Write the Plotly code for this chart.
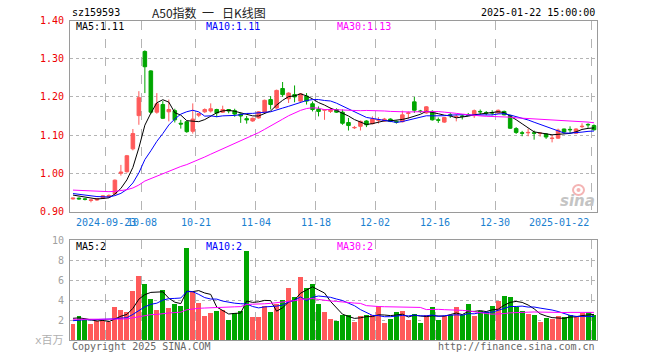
import plotly.graph_objects as go

# ---------------- data ----------------
dates = [
    "2024-09-11", "2024-09-12", "2024-09-13", "2024-09-18", "2024-09-19", "2024-09-20",
    "2024-09-23", "2024-09-24", "2024-09-25", "2024-09-26", "2024-09-27", "2024-09-30",
    "2024-10-08", "2024-10-09", "2024-10-10", "2024-10-11", "2024-10-14", "2024-10-15",
    "2024-10-16", "2024-10-17", "2024-10-18", "2024-10-21", "2024-10-22", "2024-10-23",
    "2024-10-24", "2024-10-25", "2024-10-28", "2024-10-29", "2024-10-30", "2024-10-31",
    "2024-11-01", "2024-11-04", "2024-11-05", "2024-11-06", "2024-11-07", "2024-11-08",
    "2024-11-11", "2024-11-12", "2024-11-13", "2024-11-14", "2024-11-15", "2024-11-18",
    "2024-11-19", "2024-11-20", "2024-11-21", "2024-11-22", "2024-11-25", "2024-11-26",
    "2024-11-27", "2024-11-28", "2024-11-29", "2024-12-02", "2024-12-03", "2024-12-04",
    "2024-12-05", "2024-12-06", "2024-12-09", "2024-12-10", "2024-12-11", "2024-12-12",
    "2024-12-13", "2024-12-16", "2024-12-17", "2024-12-18", "2024-12-19", "2024-12-20",
    "2024-12-23", "2024-12-24", "2024-12-25", "2024-12-26", "2024-12-27", "2024-12-30",
    "2024-12-31", "2025-01-02", "2025-01-03", "2025-01-06", "2025-01-07", "2025-01-08",
    "2025-01-09", "2025-01-10", "2025-01-13", "2025-01-14", "2025-01-15", "2025-01-16",
    "2025-01-17", "2025-01-20", "2025-01-21", "2025-01-22",
]

opens = [
    0.933, 0.935, 0.933, 0.929, 0.930, 0.935, 0.938, 0.946, 1.000, 1.004,
    1.064, 1.151, 1.319, 1.268, 1.160, 1.180, 1.161, 1.164, 1.131, 1.135,
    1.110, 1.152, 1.161, 1.163, 1.167, 1.160, 1.167, 1.164, 1.155, 1.143,
    1.137, 1.145, 1.160, 1.193, 1.171, 1.222, 1.195, 1.206, 1.189, 1.202,
    1.182, 1.168, 1.165, 1.162, 1.167, 1.160, 1.133, 1.119, 1.123, 1.137,
    1.130, 1.139, 1.137, 1.142, 1.136, 1.135, 1.157, 1.187, 1.163, 1.158,
    1.162, 1.140, 1.134, 1.153, 1.148, 1.150, 1.154, 1.151, 1.162, 1.159,
    1.159, 1.158, 1.162, 1.151, 1.117, 1.106, 1.106, 1.106, 1.104, 1.103,
    1.091, 1.092, 1.116, 1.115, 1.105, 1.122, 1.128, 1.125,
]
highs = [
    0.936, 0.937, 0.935, 0.932, 0.935, 0.943, 0.945, 0.984, 1.022, 1.048,
    1.116, 1.215, 1.322, 1.270, 1.210, 1.189, 1.193, 1.169, 1.140, 1.136,
    1.183, 1.158, 1.170, 1.183, 1.169, 1.177, 1.168, 1.169, 1.157, 1.150,
    1.146, 1.163, 1.193, 1.202, 1.219, 1.239, 1.212, 1.230, 1.210, 1.210,
    1.188, 1.175, 1.168, 1.172, 1.170, 1.167, 1.145, 1.124, 1.138, 1.139,
    1.149, 1.147, 1.145, 1.144, 1.138, 1.164, 1.162, 1.200, 1.166, 1.176,
    1.165, 1.146, 1.147, 1.158, 1.154, 1.154, 1.158, 1.167, 1.167, 1.163,
    1.165, 1.167, 1.164, 1.153, 1.121, 1.111, 1.117, 1.112, 1.108, 1.105,
    1.100, 1.117, 1.117, 1.123, 1.118, 1.131, 1.131, 1.128,
]
lows = [
    0.931, 0.931, 0.929, 0.924, 0.928, 0.933, 0.936, 0.945, 0.994, 1.002,
    1.060, 1.127, 1.210, 1.155, 1.156, 1.142, 1.136, 1.133, 1.117, 1.106,
    1.104, 1.147, 1.158, 1.159, 1.147, 1.158, 1.157, 1.148, 1.132, 1.130,
    1.135, 1.143, 1.158, 1.167, 1.169, 1.200, 1.184, 1.186, 1.187, 1.180,
    1.162, 1.149, 1.140, 1.158, 1.158, 1.127, 1.112, 1.116, 1.112, 1.121,
    1.128, 1.130, 1.135, 1.134, 1.130, 1.133, 1.143, 1.158, 1.158, 1.156,
    1.138, 1.132, 1.132, 1.145, 1.136, 1.141, 1.150, 1.145, 1.154, 1.152,
    1.152, 1.156, 1.152, 1.116, 1.103, 1.097, 1.097, 1.088, 1.096, 1.090,
    1.081, 1.090, 1.104, 1.105, 1.103, 1.118, 1.119, 1.112,
]
closes = [
    0.935, 0.933, 0.932, 0.930, 0.934, 0.941, 0.942, 0.982, 1.003, 1.046,
    1.104, 1.198, 1.279, 1.160, 1.182, 1.144, 1.167, 1.140, 1.129, 1.109,
    1.142, 1.156, 1.167, 1.169, 1.158, 1.167, 1.163, 1.155, 1.150, 1.140,
    1.144, 1.161, 1.191, 1.180, 1.217, 1.206, 1.210, 1.200, 1.208, 1.189,
    1.167, 1.162, 1.167, 1.167, 1.160, 1.131, 1.125, 1.120, 1.136, 1.127,
    1.142, 1.140, 1.142, 1.136, 1.134, 1.153, 1.158, 1.165, 1.162, 1.174,
    1.140, 1.139, 1.146, 1.152, 1.149, 1.149, 1.152, 1.164, 1.161, 1.158,
    1.158, 1.165, 1.153, 1.118, 1.107, 1.105, 1.107, 1.105, 1.105, 1.095,
    1.092, 1.113, 1.108, 1.114, 1.116, 1.123, 1.127, 1.114,
]
# volume, millions of shares
volumes = [
    1.6, 2.4, 2.0, 1.6, 1.9, 1.9, 1.8, 3.3, 3.0, 2.8,
    4.9, 6.4, 5.6, 4.1, 3.0, 5.0, 3.2, 3.6, 3.4, 9.2,
    4.8, 3.7, 2.4, 2.7, 2.9, 3.0, 2.0, 2.7, 2.9, 8.9,
    2.3, 2.3, 3.4, 2.8, 3.6, 4.0, 5.2, 4.3, 6.3, 5.2,
    5.6, 3.6, 2.8, 2.1, 1.9, 2.5, 2.5, 1.8, 2.4, 2.5,
    2.5, 3.4, 1.7, 2.1, 2.8, 2.9, 2.0, 2.6, 1.7, 2.5,
    3.3, 2.0, 2.4, 2.5, 3.3, 2.5, 3.6, 2.4, 2.9, 2.8,
    3.4, 3.9, 4.4, 4.3, 3.3, 2.9, 2.6, 2.5, 1.8, 2.2,
    2.1, 2.4, 2.3, 2.5, 2.3, 2.7, 2.8, 2.5,
]
# sessions before the visible window (only used to seed the moving averages)
prior_closes = [
    0.958, 0.955, 0.957, 0.954, 0.956, 0.955, 0.957, 0.960, 0.962, 0.965,
    0.967, 0.966, 0.964, 0.963, 0.961, 0.964, 0.966, 0.962, 0.960, 0.959,
    0.955, 0.953, 0.951, 0.949, 0.947, 0.947, 0.946, 0.944, 0.943,
]
prior_volumes = [
    2.3, 2.0, 2.2, 1.9, 2.4, 2.1, 2.0, 2.3, 2.2, 1.9,
    2.1, 2.4, 2.0, 2.2, 2.1, 1.9, 2.3, 2.2, 2.0, 2.3,
    1.8, 1.6, 1.7, 1.7, 1.65, 2.2, 2.4, 2.3, 2.35,
]

tick_dates = ["2024-09-23", "2024-10-08", "2024-10-21", "2024-11-04", "2024-11-18",
              "2024-12-02", "2024-12-16", "2024-12-30", "2025-01-22"]
tick_labels = ["2024-09-23", "10-08", "10-21", "11-04", "11-18",
               "12-02", "12-16", "12-30", "2025-01-22"]
price_ticks = [0.90, 1.00, 1.10, 1.20, 1.30, 1.40]
volume_ticks = [2, 4, 6, 8, 10]

code = "sz159593"
title = "A50指数\u00a0\u00a0一\u00a0\u00a0\u00a0日K线图"
stamp = "2025-01-22 15:00:00"
ma_price_text = ["MA5:1.11", "MA10:1.11", "MA30:1.13"]
ma_vol_text = ["MA5:2", "MA10:2", "MA30:2"]

# ---------------- helpers ----------------
def moving_average(values, prior, n):
    full = list(prior) + list(values)
    start = len(prior)
    return [sum(full[k - n + 1:k + 1]) / n for k in range(start, len(full))]

RED = "#ff5a5a"
GREEN = "#00a600"
MA_COLORS = ["#000000", "#0000ff", "#ff00ff"]
MONO = "DejaVu Sans Mono, Liberation Mono, monospace"

idx = list(range(len(dates)))
grid_x = [dates.index(d) - 0.5 for d in tick_dates]

fig = go.Figure()

fig.add_trace(go.Candlestick(
    x=idx, open=opens, high=highs, low=lows, close=closes,
    increasing=dict(line=dict(color=RED, width=1), fillcolor=RED),
    decreasing=dict(line=dict(color=GREEN, width=1), fillcolor=GREEN),
    whiskerwidth=0, hoverinfo="skip", showlegend=False,
    xaxis="x", yaxis="y",
))
for n, col in zip([5, 10, 30], MA_COLORS):
    fig.add_trace(go.Scatter(
        x=idx, y=moving_average(closes, prior_closes, n), mode="lines",
        line=dict(color=col, width=1), hoverinfo="skip", showlegend=False,
        xaxis="x", yaxis="y",
    ))

bar_colors = [RED if c >= o else GREEN for o, c in zip(opens, closes)]
fig.add_trace(go.Bar(
    x=idx, y=volumes, marker=dict(color=bar_colors, line=dict(width=0)),
    width=0.83, hoverinfo="skip", showlegend=False, xaxis="x2", yaxis="y2",
))
for n, col in zip([5, 10, 30], MA_COLORS):
    fig.add_trace(go.Scatter(
        x=idx, y=moving_average(volumes, prior_volumes, n), mode="lines",
        line=dict(color=col, width=1), hoverinfo="skip", showlegend=False,
        xaxis="x2", yaxis="y2",
    ))

W, H = 660, 360
xl, xr = 70, 597
dom_x = [xl / W, xr / W]
main_top, main_bot = 20.5, 211.5
vol_top, vol_bot = 240, 340

frame = dict(showline=True, mirror=True, linecolor="#9a9a9a", linewidth=1, zeroline=False)

xcommon = dict(
    domain=dom_x, range=[-0.5, len(dates) - 0.5], tickmode="array", tickvals=grid_x,
    showticklabels=False, ticks="", showgrid=True, gridcolor="#b4b4b4",
    griddash="dash", gridwidth=1, fixedrange=True, automargin=False, **frame,
)

fig.update_layout(
    width=W, height=H, margin=dict(l=0, r=0, t=0, b=0, pad=0, autoexpand=False),
    paper_bgcolor="white", plot_bgcolor="white", bargap=0, boxgap=0.15,
    xaxis=dict(anchor="y", rangeslider=dict(visible=False), **xcommon),
    xaxis2=dict(anchor="y2", **xcommon),
    yaxis=dict(
        domain=[(H - main_bot) / H, (H - main_top) / H], range=[0.90, 1.40],
        tickmode="array", tickvals=price_ticks, ticktext=[f"{v:.2f}" for v in price_ticks],
        tickfont=dict(family=MONO, size=10, color="#ee0000"), ticks="",
        ticklabelstandoff=3, showgrid=True, gridcolor="#b4b4b4", griddash="dot",
        anchor="x", automargin=False, fixedrange=True, **frame,
    ),
    yaxis2=dict(
        domain=[(H - vol_bot) / H, (H - vol_top) / H], range=[0, 10],
        tickmode="array", tickvals=volume_ticks, ticktext=[str(v) for v in volume_ticks],
        tickfont=dict(family=MONO, size=10, color="#a0a0a0"), ticks="",
        ticklabelstandoff=3, showgrid=True, gridcolor="#b4b4b4", griddash="dot",
        anchor="x2", automargin=False, fixedrange=True, **frame,
    ),
)

ann = []
def px_x(x):
    return x / W
def px_y(y):
    return 1 - y / H

# header
ann.append(dict(x=px_x(70), y=px_y(13), text=code, xanchor="left", yanchor="middle",
                font=dict(family=MONO, size=10, color="#000")))
ann.append(dict(x=px_x(150), y=px_y(13), text=title, xanchor="left", yanchor="middle",
                font=dict(family="Noto Sans CJK SC", size=12, color="#222")))
ann.append(dict(x=px_x(597), y=px_y(13), text=stamp, xanchor="right", yanchor="middle",
                font=dict(family=MONO, size=10, color="#000")))
# MA legends
for t, xp, col in zip(ma_price_text, [74, 204, 335], MA_COLORS):
    ann.append(dict(x=px_x(xp), y=px_y(26.5), text=t, xanchor="left", yanchor="middle",
                    font=dict(family=MONO, size=10, color=col)))
for t, xp, col in zip(ma_vol_text, [74, 204, 335], MA_COLORS):
    ann.append(dict(x=px_x(xp), y=px_y(246.5), text=t, xanchor="left", yanchor="middle",
                    font=dict(family=MONO, size=10, color=col)))
# date labels
for d, lab in zip(tick_dates, tick_labels):
    gx = dates.index(d) - 0.5
    last = d == tick_dates[-1]
    ann.append(dict(x=gx, xref="x", y=px_y(222), yref="paper", text=lab,
                    xanchor="right" if last else "center", yanchor="middle",
                    font=dict(family=MONO, size=10, color="#1a80d0")))
# unit, footer, watermark
ann.append(dict(x=px_x(66), y=px_y(340), text="x百万", xanchor="right", yanchor="middle",
                font=dict(family="DejaVu Sans Mono, Noto Sans CJK SC", size=11, color="#b0b0b0")))
ann.append(dict(x=px_x(70), y=px_y(346), text="Copyright 2025 SINA.COM", xanchor="left",
                yanchor="middle", font=dict(family=MONO, size=10, color="#666")))
ann.append(dict(x=px_x(597), y=px_y(346), text="http://finance.sina.com.cn", xanchor="right",
                yanchor="middle", font=dict(family=MONO, size=10, color="#666")))
ann.append(dict(x=px_x(597), y=px_y(201), text="<b><i>sina</i></b>", xanchor="right",
                yanchor="middle", font=dict(family="DejaVu Sans", size=15, color="#c4c4c4")))

for a in ann:
    a.setdefault("xref", "paper")
    a.setdefault("yref", "paper")
    a["showarrow"] = False
fig.update_layout(annotations=ann)

# faint "eye" of the sina watermark
fig.add_shape(type="circle", xref="paper", yref="paper",
              x0=px_x(573), x1=px_x(584), y0=px_y(195), y1=px_y(185),
              line=dict(color="#f4b4b4", width=2), fillcolor="rgba(0,0,0,0)")
fig.add_shape(type="circle", xref="paper", yref="paper",
              x0=px_x(576.5), x1=px_x(580.5), y0=px_y(192), y1=px_y(188),
              line=dict(width=0), fillcolor="#f4b4b4")

fig.write_html(
    "out.html",
    config={"displayModeBar": False},
    post_script="document.body.style.margin='0px';document.body.style.overflow='hidden';",
)
